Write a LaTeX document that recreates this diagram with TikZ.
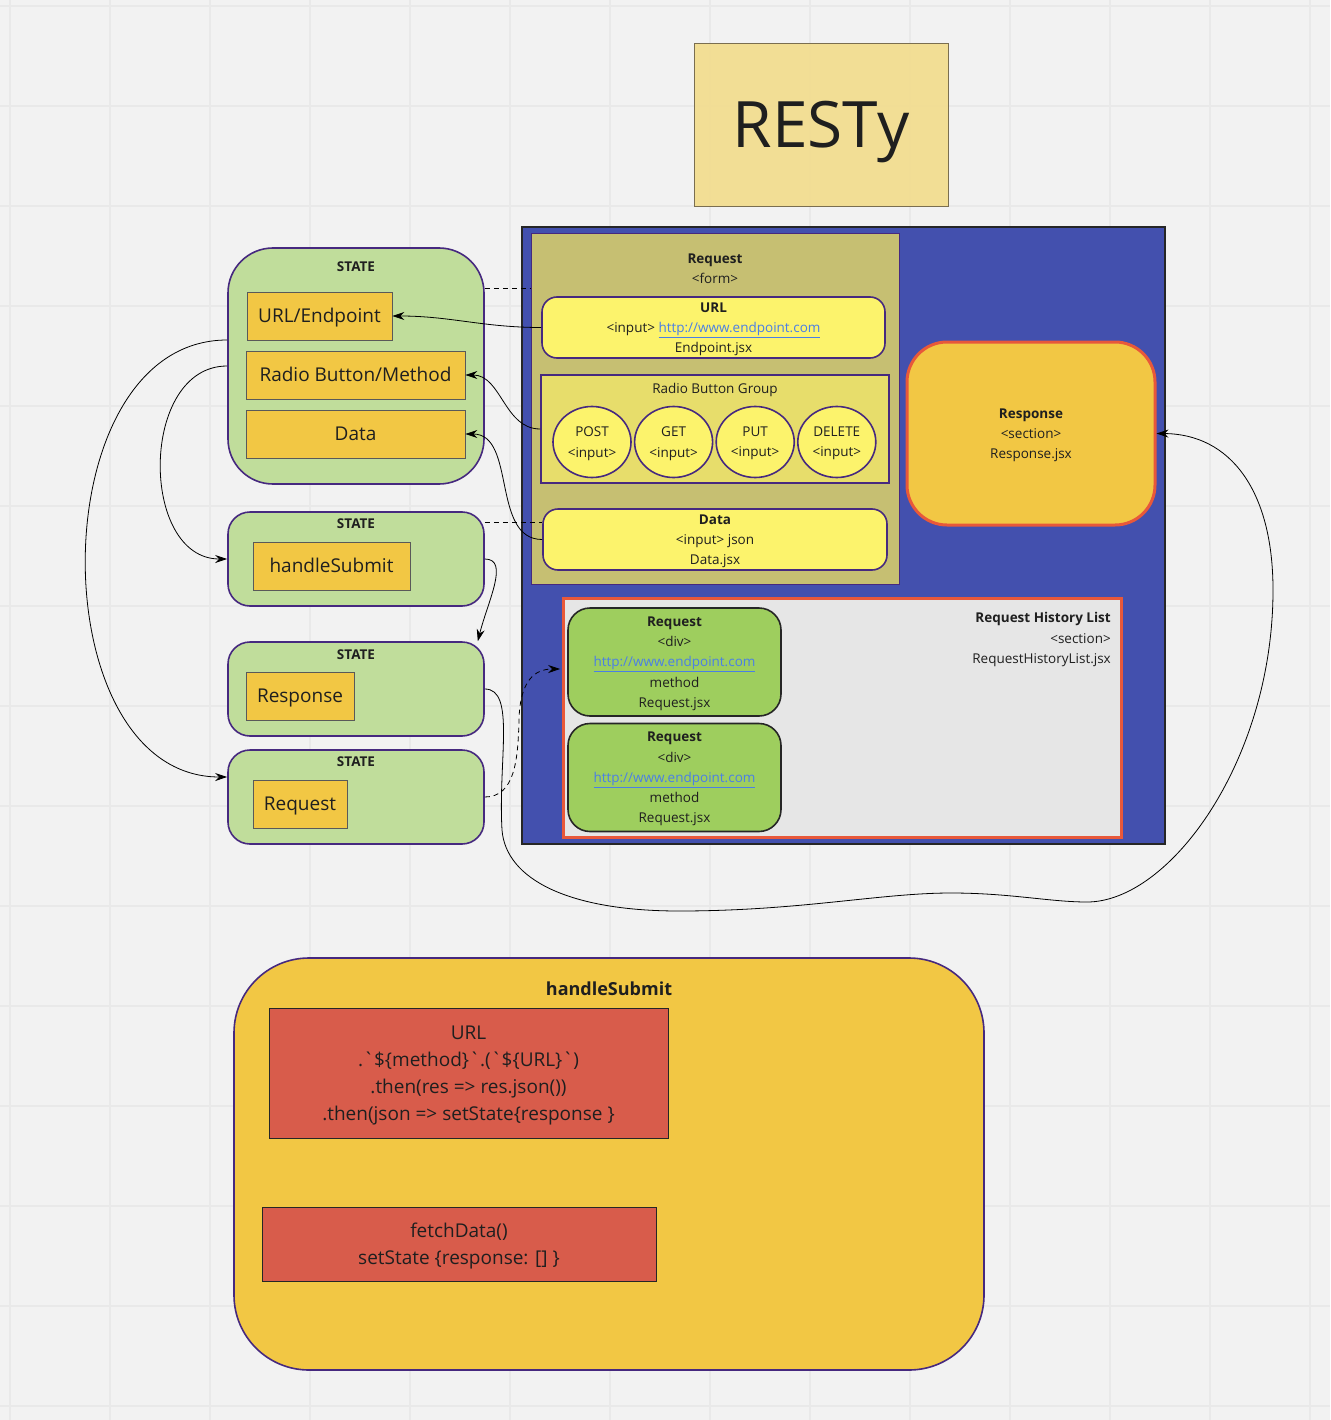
\documentclass[tikz,border=0pt]{standalone}
\usepackage{fontspec}
\setmainfont{Open Sans}
\usetikzlibrary{arrows.meta,shapes.geometric,positioning}

\definecolor{BgGray}{HTML}{F2F2F2}
\definecolor{GridGray}{HTML}{E9E9E9}
\definecolor{TextDark}{HTML}{1F1F1F}
\definecolor{TitleYellow}{HTML}{F2DD8E}
\definecolor{TitleEdge}{HTML}{7A6E50}
\definecolor{AppBlue}{HTML}{4350AE}
\definecolor{FormKhaki}{HTML}{C6BF72}
\definecolor{EdgePurple}{HTML}{46297F}
\definecolor{InputYellow}{HTML}{FCF36C}
\definecolor{GroupYellow}{HTML}{E7DD6B}
\definecolor{Amber}{HTML}{F2C744}
\definecolor{EdgeOrange}{HTML}{E8583A}
\definecolor{ListGray}{HTML}{E6E6E6}
\definecolor{CardGreen}{HTML}{9ECE5E}
\definecolor{StateGreen}{HTML}{C0DD9B}
\definecolor{CodeRed}{HTML}{D85C4B}
\definecolor{LinkBlue}{HTML}{4A7FE6}

\newcommand{\LinkT}[1]{\textcolor{LinkBlue}{\underline{#1}}}
\newcommand{\SmallT}{\fontsize{13.5}{20.3}\selectfont}
\newcommand{\LabelT}{\fontsize{19}{23}\selectfont}
\newcommand{\CodeLinesT}{\fontsize{19}{27}\selectfont}

\begin{document}
\begin{tikzpicture}[x=1pt,y=-1pt,>={Stealth[length=12pt,width=8pt]}]
			\tikzstyle{stateBox} = [draw=EdgePurple, line width=1.6pt, fill=StateGreen, rounded corners=22pt]
			\tikzstyle{varBox} = [draw=black!65, line width=0.8pt, fill=Amber, text=TextDark, font=\LabelT,
				text height=13.7pt, text depth=0pt]
			\tikzstyle{inputBox} = [draw=EdgePurple, line width=1.6pt, fill=InputYellow, rounded corners=15pt,
				text=TextDark, font=\SmallT, align=center, text depth=0pt]
			\tikzstyle{radio} = [ellipse, draw=EdgePurple, line width=1.6pt, fill=InputYellow, inner sep=0pt,
				minimum width=78pt, minimum height=71pt, text=TextDark, font=\SmallT, align=center, text depth=0pt]
			\tikzstyle{reqCard} = [draw=black!85, line width=1.6pt, fill=CardGreen, rounded corners=22pt,
				minimum width=213pt, minimum height=108pt, text=TextDark, font=\SmallT, align=center, text depth=0pt]
			\tikzstyle{codeBox} = [draw=black!85, line width=0.8pt, fill=CodeRed, text=TextDark,
				font=\CodeLinesT, align=center, text depth=0pt]
			\tikzstyle{caption} = [text=TextDark, font=\SmallT, align=center, inner sep=0pt, text depth=0pt]
			\tikzstyle{gridLine} = [GridGray, line width=1.2pt]
			\tikzstyle{line} = [draw, ->, line width=0.8pt]
			\tikzstyle{lineDash} = [draw, line width=0.8pt, dash pattern=on 5pt off 4pt]

			\useasboundingbox (0,0) rectangle (1330,1420);
			\fill[BgGray] (0,0) rectangle (1330,1420);
			\foreach \gx in {10,110,...,1310} \draw[gridLine] (\gx,0) -- (\gx,1420);
			\foreach \gy in {6,106,...,1406} \draw[gridLine] (0,\gy) -- (1330,\gy);

			% title
			\node(Title)[draw=TitleEdge, line width=0.8pt, fill=TitleYellow, fill opacity=0.92, text opacity=1,
				minimum width=254pt, minimum height=163pt, text=TextDark, font=\fontsize{64}{70}\selectfont,
				text depth=0pt] at (821,124.5) {RESTy};

			% app frame
			\node(App)[draw=black!85, line width=2pt, fill=AppBlue, minimum width=643pt, minimum height=617pt] at (843.5,535.5) {};
			\node(RequestForm)[draw=EdgePurple, line width=1pt, fill=FormKhaki, minimum width=368pt, minimum height=350pt] at (715,409) {};
			\node(FormTitle)[caption] at (715,269) {\textbf{Request}\\<form>};
			\node(URLInput)[inputBox, minimum width=343pt, minimum height=61pt] at (713.5,327.5)
				{\textbf{URL}\\<input> \LinkT{http://www.endpoint.com}\\Endpoint.jsx};
			\node(RadioGroup)[draw=EdgePurple, line width=1.6pt, fill=GroupYellow, minimum width=348pt, minimum height=108pt] at (715,429) {};
			\node(RadioTitle)[caption] at (715,388) {Radio Button Group};
			\node(RadioPost)[radio] at (592,442) {POST\\<input>};
			\node(RadioGet)[radio, right=2pt of RadioPost] {GET\\<input>};
			\node(RadioPut)[radio, right=2pt of RadioGet] {PUT\\<input>};
			\node(RadioDelete)[radio, right=2pt of RadioPut] {DELETE\\<input>};
			\node(DataInput)[inputBox, minimum width=344pt, minimum height=61pt] at (715,539.5)
				{\textbf{Data}\\<input> json\\Data.jsx};

			\node(Response)[draw=EdgeOrange, line width=3pt, fill=Amber, rounded corners=40pt, minimum width=248pt, minimum height=183pt,
				text=TextDark, font=\SmallT, align=center, text depth=0pt] at (1031,433.5) {\textbf{Response}\\<section>\\Response.jsx};

			\node(HistoryList)[draw=EdgeOrange, line width=3pt, fill=ListGray, minimum width=558pt, minimum height=239pt] at (842,717.5) {};
			\node(HistoryTitle)[caption, anchor=east, align=right] at (1111,638) {\textbf{Request History List}\\<section>\\RequestHistoryList.jsx};
			\node(RequestA)[reqCard] at (674.5,662) {\textbf{Request}\\<div>\\\LinkT{http://www.endpoint.com}\\method\\Request.jsx};
			\node(RequestB)[reqCard] at (674.5,777.5) {\textbf{Request}\\<div>\\\LinkT{http://www.endpoint.com}\\method\\Request.jsx};

			% state
			\node(StateA)[stateBox, rounded corners=45pt, minimum width=256pt, minimum height=236pt] at (356,366) {};
			\node(StateLabelA)[caption] at (356,267) {\textbf{STATE}};
			\node(VarURL)[varBox, minimum width=145pt, minimum height=48pt] at (319.5,316) {URL/Endpoint};
			\node(VarMethod)[varBox, minimum width=219pt, minimum height=48pt] at (355.5,375) {Radio Button/Method};
			\node(VarData)[varBox, minimum width=219pt, minimum height=48pt] at (355.5,434) {Data};

			\node(StateB)[stateBox, minimum width=256pt, minimum height=94pt] at (356,559) {};
			\node(StateLabelB)[caption] at (356,524) {\textbf{STATE}};
			\node(VarSubmit)[varBox, minimum width=157pt, minimum height=48pt] at (331.5,566) {handleSubmit};

			\node(StateC)[stateBox, minimum width=256pt, minimum height=94pt] at (356,689) {};
			\node(StateLabelC)[caption] at (356,655) {\textbf{STATE}};
			\node(VarResponse)[varBox, minimum width=108pt, minimum height=48pt] at (300,696) {Response};

			\node(StateD)[stateBox, minimum width=256pt, minimum height=94pt] at (356,797) {};
			\node(StateLabelD)[caption] at (356,762) {\textbf{STATE}};
			\node(VarRequest)[varBox, minimum width=94pt, minimum height=48pt] at (300,804) {Request};

			% handleSubmit
			\node(Submit)[draw=EdgePurple, line width=1.6pt, fill=Amber, rounded corners=75pt, minimum width=750pt, minimum height=412pt] at (609,1164) {};
			\node(SubmitTitle)[text=TextDark, font=\fontsize{18}{22}\selectfont\bfseries, inner sep=0pt] at (609,989) {handleSubmit};
			\node(CodeFetch)[codeBox, minimum width=399pt, minimum height=130pt] at (468.5,1073)
				{URL\\.\textasciigrave\$\{method\}\textasciigrave.(\textasciigrave\$\{URL\}\textasciigrave)\\.then(res => res.json())\\.then(json => setState\{response \}};
			\node(CodeReset)[codeBox, minimum width=394pt, minimum height=74pt] at (459,1244)
				{fetchData()\\setState \{response: [] \}};

			% connectors
			\draw[line] (URLInput.west) to[out=180,in=0] (VarURL.east);
			\draw[line] (RadioGroup.west) to[out=180,in=0] (VarMethod.east);
			\draw[line] (DataInput.west) to[out=180,in=0] (VarData.east);
			\coordinate (DashA) at ([yshift=78pt]StateA.east);
			\draw[lineDash] (DashA) -- (DashA -| RequestForm.west);
			\coordinate (DashB) at ([yshift=37pt]StateB.east);
			\draw[lineDash] (DashB) -- (DashB -| DataInput.west);
			\draw[line] ([yshift=26pt]StateA.west) .. controls +(-188,0) and +(-188,0) .. ([yshift=20pt]StateD.west);
			\draw[line] (StateA.west) .. controls +(-88,0) and +(-88,0) .. (StateB.west);
			\draw[line] (StateB.east) .. controls +(25,0) and +(10,-40) .. ([xshift=-7pt]StateC.north east);
			\draw[line] (StateC.east) .. controls +(31,0) and (498,760) .. (502,830)
				.. controls (506,880) and (570,911) .. (679,911)
				.. controls (800,911) and (880,893) .. (951,893)
				.. controls (1010,893) and (1050,902) .. (1087,902)
				.. controls (1170,902) and (1273,760) .. (1273,590)
				.. controls (1273,490) and (1230,434) .. (Response.east);
			\draw[lineDash, ->] (StateD.east) .. controls +(30,0) and (518,760) .. (519,720)
				.. controls (520,680) and (535,669) .. ([shift={(-7pt,-7pt)}]RequestA.west);

		\end{tikzpicture}
\end{document}
